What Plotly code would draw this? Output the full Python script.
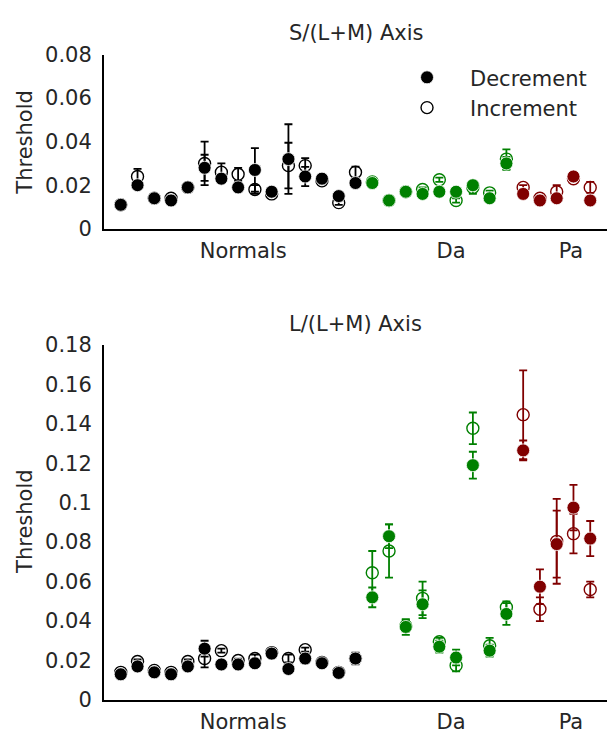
import plotly.graph_objects as go

# ---------------- data ----------------
subjects = list(range(1, 30))
groups = ["Normals"] * 15 + ["Da"] * 9 + ["Pa"] * 5
group_names = ["Normals", "Da", "Pa"]
group_colors = ["black", "green", "#800000"]
group_tick_pos = [8.3, 20.7, 27.85]

# S/(L+M) axis thresholds
s_dec = [0.011, 0.020, 0.014, 0.013, 0.019, 0.028, 0.023, 0.019, 0.027, 0.017, 0.032, 0.024, 0.023, 0.015, 0.021,
         0.021, 0.013, 0.017, 0.016, 0.017, 0.017, 0.020, 0.014, 0.030,
         0.016, 0.013, 0.014, 0.024, 0.013]
s_dec_err = [0.0005, 0.001, 0.001, 0.001, 0.001, 0.006, 0.002, 0.002, 0.010, 0.001, 0.016, 0.0044, 0.001, 0.001, 0.001,
             0.001, 0.001, 0.001, 0.001, 0.002, 0.001, 0.002, 0.001, 0.003,
             0.001, 0.001, 0.001, 0.001, 0.001]
s_inc = [0.011, 0.024, 0.014, 0.014, 0.019, 0.030, 0.026, 0.025, 0.018, 0.016, 0.029, 0.029, 0.022, 0.012, 0.026,
         0.0215, 0.013, 0.017, 0.018, 0.0225, 0.013, 0.019, 0.0165, 0.032,
         0.019, 0.014, 0.017, 0.023, 0.019]
s_inc_err = [0.0005, 0.0035, 0.001, 0.001, 0.001, 0.010, 0.004, 0.003, 0.002, 0.001, 0.0105, 0.0034, 0.001, 0.001, 0.0025,
             0.001, 0.001, 0.001, 0.001, 0.001, 0.001, 0.003, 0.001, 0.0045,
             0.001, 0.001, 0.003, 0.001, 0.0025]

# L/(L+M) axis thresholds
l_dec = [0.013, 0.017, 0.014, 0.013, 0.017, 0.026, 0.018, 0.018, 0.0186, 0.0235, 0.0157, 0.021, 0.0186, 0.0137, 0.021,
         0.052, 0.083, 0.037, 0.0485, 0.027, 0.0215, 0.119, 0.025, 0.0436,
         0.1265, 0.0574, 0.079, 0.0975, 0.0818]
l_dec_err = [0.001, 0.001, 0.001, 0.001, 0.001, 0.004, 0.001, 0.001, 0.001, 0.001, 0.001, 0.002, 0.001, 0.001, 0.003,
             0.005, 0.006, 0.004, 0.007, 0.003, 0.004, 0.0068, 0.003, 0.0055,
             0.005, 0.0088, 0.017, 0.0115, 0.0089]
l_inc = [0.014, 0.0195, 0.015, 0.014, 0.0195, 0.021, 0.025, 0.020, 0.021, 0.024, 0.021, 0.0255, 0.019, 0.014, 0.021,
         0.0645, 0.0755, 0.0375, 0.0515, 0.0295, 0.0175, 0.1377, 0.0275, 0.047,
         0.1446, 0.046, 0.0804, 0.0843, 0.056]
l_inc_err = [0.001, 0.001, 0.001, 0.001, 0.001, 0.0045, 0.001, 0.001, 0.002, 0.001, 0.002, 0.001, 0.001, 0.001, 0.001,
             0.011, 0.0135, 0.003, 0.0085, 0.002, 0.003, 0.008, 0.004, 0.003,
             0.0225, 0.006, 0.0215, 0.010, 0.004]

s_ticks = [0, 0.02, 0.04, 0.06, 0.08]
s_ticktext = ["0", "0.02", "0.04", "0.06", "0.08"]
l_ticks = [0, 0.02, 0.04, 0.06, 0.08, 0.10, 0.12, 0.14, 0.16, 0.18]
l_ticktext = ["0", "0.02", "0.04", "0.06", "0.08", "0.1", "0.12", "0.14", "0.16", "0.18"]

FONT = "DejaVu Sans"
FS = 21
TXT = "#262626"

fig = go.Figure()


def add_panel(dec, dec_err, inc, inc_err, xa, ya, legend):
    for kind in ("inc", "dec"):
        for gname, col in zip(group_names, group_colors):
            idx = [i for i, g in enumerate(groups) if g == gname]
            xs = [subjects[i] for i in idx]
            if kind == "inc":
                ys = [inc[i] for i in idx]
                es = [inc_err[i] for i in idx]
                marker = dict(symbol="circle-open", size=12, color=col, line=dict(width=1.4, color=col))
                name = "Increment"
                rank = 2
            else:
                ys = [dec[i] for i in idx]
                es = [dec_err[i] for i in idx]
                marker = dict(symbol="circle", size=13, color=col, line=dict(width=0.8, color="white"))
                name = "Decrement"
                rank = 1
            show = legend and gname == "Normals"
            fig.add_trace(go.Scatter(
                x=xs, y=ys, mode="markers", marker=marker,
                error_y=dict(type="data", array=es, visible=True, color=col, thickness=1.8, width=4),
                xaxis=xa, yaxis=ya, name=name, showlegend=show, legendrank=rank,
                hoverinfo="skip",
            ))


add_panel(s_dec, s_dec_err, s_inc, s_inc_err, "x", "y", True)
add_panel(l_dec, l_dec_err, l_inc, l_inc_err, "x2", "y2", False)

xcommon = dict(range=[0, 30], tickmode="array", tickvals=group_tick_pos, ticktext=group_names,
               showline=True, linecolor="black", linewidth=2, showgrid=False, zeroline=False,
               ticks="outside", ticklen=2, tickcolor="rgba(0,0,0,0)",
               tickfont=dict(family=FONT, size=FS, color=TXT))
ycommon = dict(showline=True, linecolor="black", linewidth=2, showgrid=False, zeroline=False,
               ticks="", ticklabelstandoff=6, tickfont=dict(family=FONT, size=FS, color=TXT))

fig.update_layout(
    width=608, height=741,
    margin=dict(l=104, r=1, t=0, b=0),
    paper_bgcolor="white", plot_bgcolor="white",
    font=dict(family=FONT, size=FS, color=TXT),
    hovermode=False,
    xaxis=dict(domain=[0, 1], anchor="y", **xcommon),
    yaxis=dict(domain=[0.6977, 0.9406], anchor="x", range=[0, 0.08], tickvals=s_ticks, ticktext=s_ticktext, **ycommon),
    xaxis2=dict(domain=[0, 1], anchor="y2", **xcommon),
    yaxis2=dict(domain=[0.0405, 0.5358], anchor="x2", range=[0, 0.18], tickvals=l_ticks, ticktext=l_ticktext, **ycommon),
    legend=dict(x=0.5567, y=0.937, xanchor="left", yanchor="top", bgcolor="rgba(0,0,0,0)",
                itemwidth=76, font=dict(family=FONT, size=FS, color=TXT), tracegroupgap=0),
    showlegend=True,
    annotations=[
        dict(text="S/(L+M) Axis", xref="x domain", yref="paper", x=0.5, y=1 - 22 / 741,
             showarrow=False, xanchor="center", yanchor="middle", font=dict(family=FONT, size=FS, color=TXT)),
        dict(text="L/(L+M) Axis", xref="x2 domain", yref="paper", x=0.5, y=1 - 322 / 741,
             showarrow=False, xanchor="center", yanchor="middle", font=dict(family=FONT, size=FS, color=TXT)),
        dict(text="Threshold", xref="paper", yref="paper", x=(25 - 104) / 503, y=1 - 135 / 741,
             textangle=-90, showarrow=False, xanchor="center", yanchor="middle",
             font=dict(family=FONT, size=FS, color=TXT)),
        dict(text="Threshold", xref="paper", yref="paper", x=(25 - 104) / 503, y=1 - 527 / 741,
             textangle=-90, showarrow=False, xanchor="center", yanchor="middle",
             font=dict(family=FONT, size=FS, color=TXT)),
    ],
)

fig.write_html("out.html", config={"displayModeBar": False},
               post_script="document.body.style.margin='0px';document.body.style.overflow='hidden';")
